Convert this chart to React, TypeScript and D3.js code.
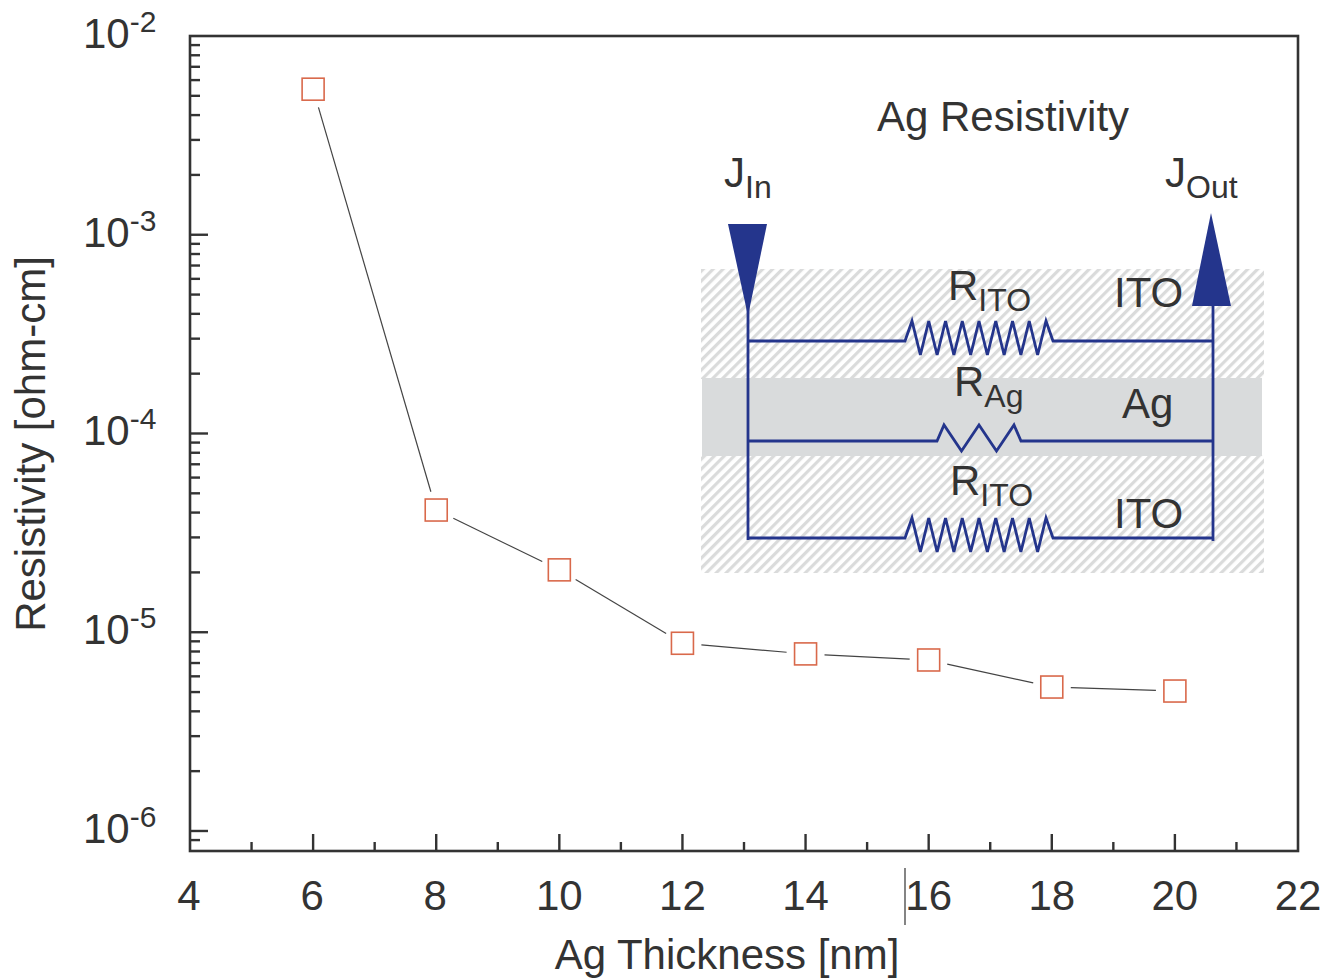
import React, { useEffect, useRef } from 'react';
import * as d3 from 'd3';

// values
const thickness = [6, 8, 10, 12, 14, 16, 18, 20];
const resistivity = [5.4e-3, 4.12e-5, 2.06e-5, 8.8e-6, 7.78e-6, 7.25e-6, 5.3e-6, 5.06e-6];
const xMajor = [4, 6, 8, 10, 12, 14, 16, 18, 20, 22];
const xMinor = [5, 7, 9, 11, 13, 15, 17, 19, 21];
const yMajor = [1e-2, 1e-3, 1e-4, 1e-5, 1e-6];

const left = 190;
const right = 1298;
const top = 36;
const bottom = 851;
const font = '"Liberation Sans", Arial, sans-serif';
const ink = '#333333';
const blue = '#24358c';
const markerGap = 19;
const markerSize = 22;

const App = () => {
  const svgRef = useRef<SVGSVGElement>(null);

  useEffect(() => {
    const svg = d3.select(svgRef.current);
    svg.selectAll('*').remove();

    const x = d3.scaleLinear().domain([4, 22]).range([left, right]);
    const y = d3.scaleLog().domain([1e-2, 7.93e-7]).range([top, bottom]);

    // hatch for the ITO layers
    svg.append('defs').append('pattern')
      .attr('id', 'hatch')
      .attr('patternUnits', 'userSpaceOnUse')
      .attr('width', 7).attr('height', 7)
      .attr('patternTransform', 'rotate(45)')
      .append('rect')
      .attr('width', 3.2).attr('height', 7)
      .attr('fill', '#dadbdb');

    // inset layers
    const inset = svg.append('g');
    inset.append('rect').attr('x', 701).attr('y', 269).attr('width', 563).attr('height', 110).attr('fill', 'url(#hatch)');
    inset.append('rect').attr('x', 701).attr('y', 455).attr('width', 563).attr('height', 118).attr('fill', 'url(#hatch)');
    inset.append('rect').attr('x', 702).attr('y', 378).attr('width', 560).attr('height', 78).attr('fill', '#d9dbdc');

    // wires and resistors
    const wire = d3.line();
    const zigzag = (x0: number, x1: number, yMid: number, peaks: number, hi: number, lo: number) => {
      const inset0 = 7;
      const step = (x1 - x0 - 2 * inset0) / (2 * (peaks - 1));
      const pts: [number, number][] = [[748, yMid], [x0, yMid]];
      for (let i = 0; i < 2 * peaks - 1; i++) {
        pts.push([x0 + inset0 + i * step, i % 2 === 0 ? hi : lo]);
      }
      pts.push([x1, yMid], [1213, yMid]);
      return wire(pts);
    };
    const wires = [
      zigzag(905, 1053, 341, 9, 321, 355),
      zigzag(937, 1021, 441, 3, 425, 451),
      zigzag(905, 1053, 538, 9, 518, 552),
      wire([[748, 300], [748, 540]]),
      wire([[1213, 300], [1213, 541]]),
    ];
    inset.selectAll('path.wire').data(wires).enter().append('path')
      .attr('class', 'wire')
      .attr('d', d => d)
      .attr('fill', 'none')
      .attr('stroke', blue)
      .attr('stroke-width', 2.8)
      .attr('stroke-linejoin', 'miter');

    // current arrows
    inset.append('path').attr('d', 'M728,224L767,224L748,316Z').attr('fill', blue);
    inset.append('path').attr('d', 'M1211,213L1192,306L1231,306Z').attr('fill', blue);

    // inset labels
    const labels: [string, string, number, number][] = [
      ['Ag Resistivity', '', 877, 131],
      ['J', 'In', 724, 187],
      ['J', 'Out', 1165, 187],
      ['R', 'ITO', 948, 300],
      ['ITO', '', 1114, 307],
      ['R', 'Ag', 954, 396],
      ['Ag', '', 1122, 418],
      ['R', 'ITO', 950, 495],
      ['ITO', '', 1114, 528],
    ];
    labels.forEach(([main, sub, lx, ly]) => {
      const t = svg.append('text').attr('x', lx).attr('y', ly)
        .attr('font-family', font).attr('font-size', 42).attr('fill', ink);
      t.append('tspan').text(main);
      if (sub) t.append('tspan').attr('dy', 11).attr('font-size', 32).text(sub);
    });

    // frame
    svg.append('rect')
      .attr('x', left).attr('y', top)
      .attr('width', right - left).attr('height', bottom - top)
      .attr('fill', 'none').attr('stroke', ink).attr('stroke-width', 2.6);

    // ticks point inward
    const styleTicks = (g: any) => {
      g.select('.domain').remove();
      g.selectAll('line').attr('stroke', ink).attr('stroke-width', 2.4);
      g.selectAll('text').attr('font-family', font).attr('fill', ink);
    };

    svg.append('g').attr('transform', `translate(0,${bottom})`)
      .call(d3.axisTop(x).tickValues(xMinor).tickSize(9).tickFormat(() => '').offset(0))
      .call(styleTicks);
    svg.append('g').attr('transform', `translate(0,${bottom})`)
      .call(d3.axisTop(x).tickValues(xMajor.slice(1, -1)).tickSize(17).tickFormat(() => '').offset(0))
      .call(styleTicks);

    xMajor.forEach(v => {
      svg.append('text')
        .attr('x', v < 10 ? x(v) - 1 : x(v)).attr('y', 910)
        .attr('text-anchor', 'middle')
        .attr('font-family', font).attr('font-size', 42).attr('fill', ink)
        .text(v);
    });

    const yMinor = y.ticks().filter(v => !yMajor.some(m => Math.abs(m - v) / m < 1e-6) && v >= 9e-7);
    svg.append('g').attr('transform', `translate(${left},0)`)
      .call(d3.axisRight(y).tickValues(yMinor).tickSize(10).tickFormat(() => '').offset(0))
      .call(styleTicks);
    svg.append('g').attr('transform', `translate(${left},0)`)
      .call(d3.axisRight(y).tickValues(yMajor.slice(1)).tickSize(18).tickFormat(() => '').offset(0))
      .call(styleTicks);

    yMajor.forEach(v => {
      const t = svg.append('text')
        .attr('x', 83).attr('y', y(v) + 12)
        .attr('font-family', font).attr('font-size', 42).attr('fill', ink);
      t.append('tspan').text('10');
      t.append('tspan').attr('dy', -16).attr('font-size', 30).text(String(Math.round(Math.log10(v))));
    });

    // axis titles
    svg.append('text')
      .attr('x', 727).attr('y', 969)
      .attr('text-anchor', 'middle')
      .attr('font-family', font).attr('font-size', 42).attr('fill', ink)
      .text('Ag Thickness [nm]');
    svg.append('text')
      .attr('transform', 'translate(45,444) rotate(-90)')
      .attr('text-anchor', 'middle')
      .attr('font-family', font).attr('font-size', 42).attr('fill', ink)
      .text('Resistivity [ohm-cm]');

    // stray rule next to the 16 label
    svg.append('line')
      .attr('x1', 905).attr('x2', 905).attr('y1', 868).attr('y2', 925)
      .attr('stroke', ink).attr('stroke-width', 1.2);

    // data line stops short of each marker
    const points = thickness.map((t, i) => [x(t), y(resistivity[i])] as [number, number]);
    d3.pairs(points).forEach(([a, b]) => {
      const len = Math.hypot(b[0] - a[0], b[1] - a[1]);
      const ux = (b[0] - a[0]) / len;
      const uy = (b[1] - a[1]) / len;
      svg.append('line')
        .attr('x1', a[0] + ux * markerGap).attr('y1', a[1] + uy * markerGap)
        .attr('x2', b[0] - ux * markerGap).attr('y2', b[1] - uy * markerGap)
        .attr('stroke', '#444444').attr('stroke-width', 1.2);
    });

    svg.selectAll('rect.marker').data(points).enter().append('rect')
      .attr('class', 'marker')
      .attr('x', d => d[0] - markerSize / 2)
      .attr('y', d => d[1] - markerSize / 2)
      .attr('width', markerSize).attr('height', markerSize)
      .attr('fill', 'none')
      .attr('stroke', '#d9694b')
      .attr('stroke-width', 1.6);
  }, []);

  return (
    <svg
      ref={svgRef}
      width={1326}
      height={980}
      style={{ position: 'absolute', left: 0, top: 0, background: '#fff', display: 'block' }}
    />
  );
};

export default App;
